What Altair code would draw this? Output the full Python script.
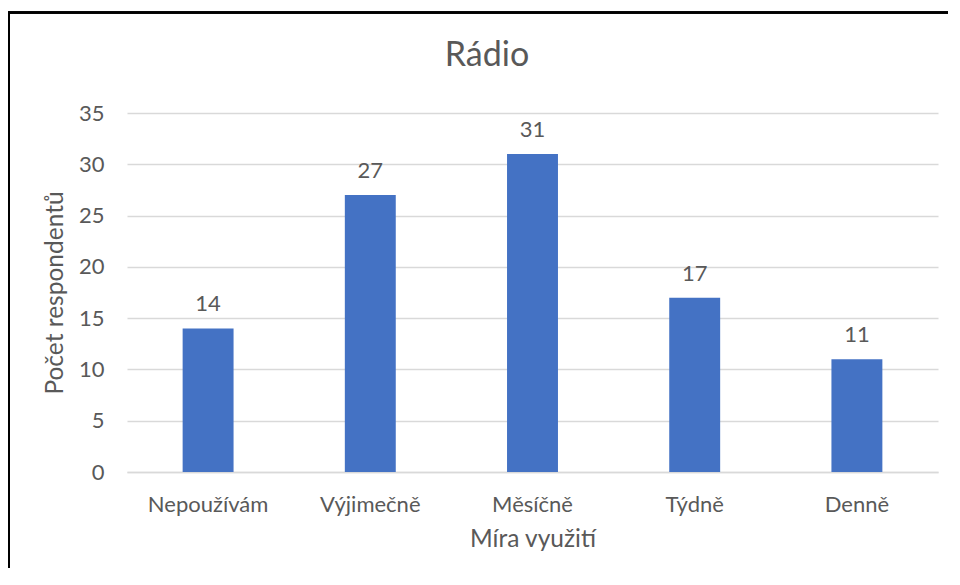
import altair as alt
import pandas as pd

categories = ["Nepoužívám", "Výjimečně", "Měsíčně", "Týdně", "Denně"]
values = [14, 27, 31, 17, 11]
y_ticks = [0, 5, 10, 15, 20, 25, 30, 35]

df = pd.DataFrame({"kategorie": categories, "pocet": values})

FONT = "Lato"
TXT = "#595959"
GRID = "#d9d9d9"
BLUE = "#4472C4"

x_enc = alt.X(
    "kategorie:N",
    sort=categories,
    scale=alt.Scale(paddingInner=0.686, paddingOuter=0.343),
    axis=alt.Axis(
        title="Míra využití",
        labelAngle=0,
        labelFontSize=22,
        labelFont=FONT,
        labelColor=TXT,
        labelPadding=39,
        labelBaseline="alphabetic",
        ticks=False,
        domainColor=GRID,
        domainWidth=1.3,
        titleFont=FONT,
        titleFontSize=24.5,
        titleFontWeight="normal",
        titleColor=TXT,
        titleBaseline="alphabetic",
        titleY=74,
    ),
)

y_enc = alt.Y(
    "pocet:Q",
    scale=alt.Scale(domain=[0, 35], nice=False),
    axis=alt.Axis(
        title="Počet respondentů",
        values=y_ticks,
        domain=False,
        ticks=False,
        gridColor=GRID,
        gridWidth=1.3,
        labelFontSize=22,
        labelFont=FONT,
        labelColor=TXT,
        labelPadding=23,
        titleFont=FONT,
        titleFontSize=24.5,
        titleFontWeight="normal",
        titleColor=TXT,
        titleAngle=-90,
        titleBaseline="alphabetic",
        titleAlign="center",
        titleX=-65,
        titleY=179.5,
    ),
)

bars = alt.Chart(df).mark_bar(color=BLUE).encode(x=x_enc, y=y_enc)

labels = alt.Chart(df).mark_text(
    font=FONT, fontSize=22, color=TXT, baseline="alphabetic", dy=-17
).encode(x=alt.X("kategorie:N", sort=categories), y="pocet:Q", text="pocet:Q")

border_top = alt.Chart(df).mark_rule(color="black", strokeWidth=2).encode(
    x=alt.value(-118), x2=alt.value(850), y=alt.value(-100.5)
)
border_left = alt.Chart(df).mark_rule(color="black", strokeWidth=2).encode(
    x=alt.value(-118), y=alt.value(-101.5), y2=alt.value(480)
)

chart = (
    alt.layer(bars, labels, border_top, border_left)
    .properties(
        width=811,
        height=359,
        autosize=alt.AutoSizeParams(type="none"),
        padding={"left": 119, "top": 105, "right": 10, "bottom": 96},
        title=alt.TitleParams(
            text="Rádio",
            font=FONT,
            fontSize=34,
            fontWeight="normal",
            color=TXT,
            anchor="middle",
            baseline="alphabetic",
            offset=0,
            dx=-45.5,
            dy=89.5,
        ),
    )
    .configure_view(stroke=None)
)

chart.save("out.html", embed_options={"renderer": "svg", "actions": False})
